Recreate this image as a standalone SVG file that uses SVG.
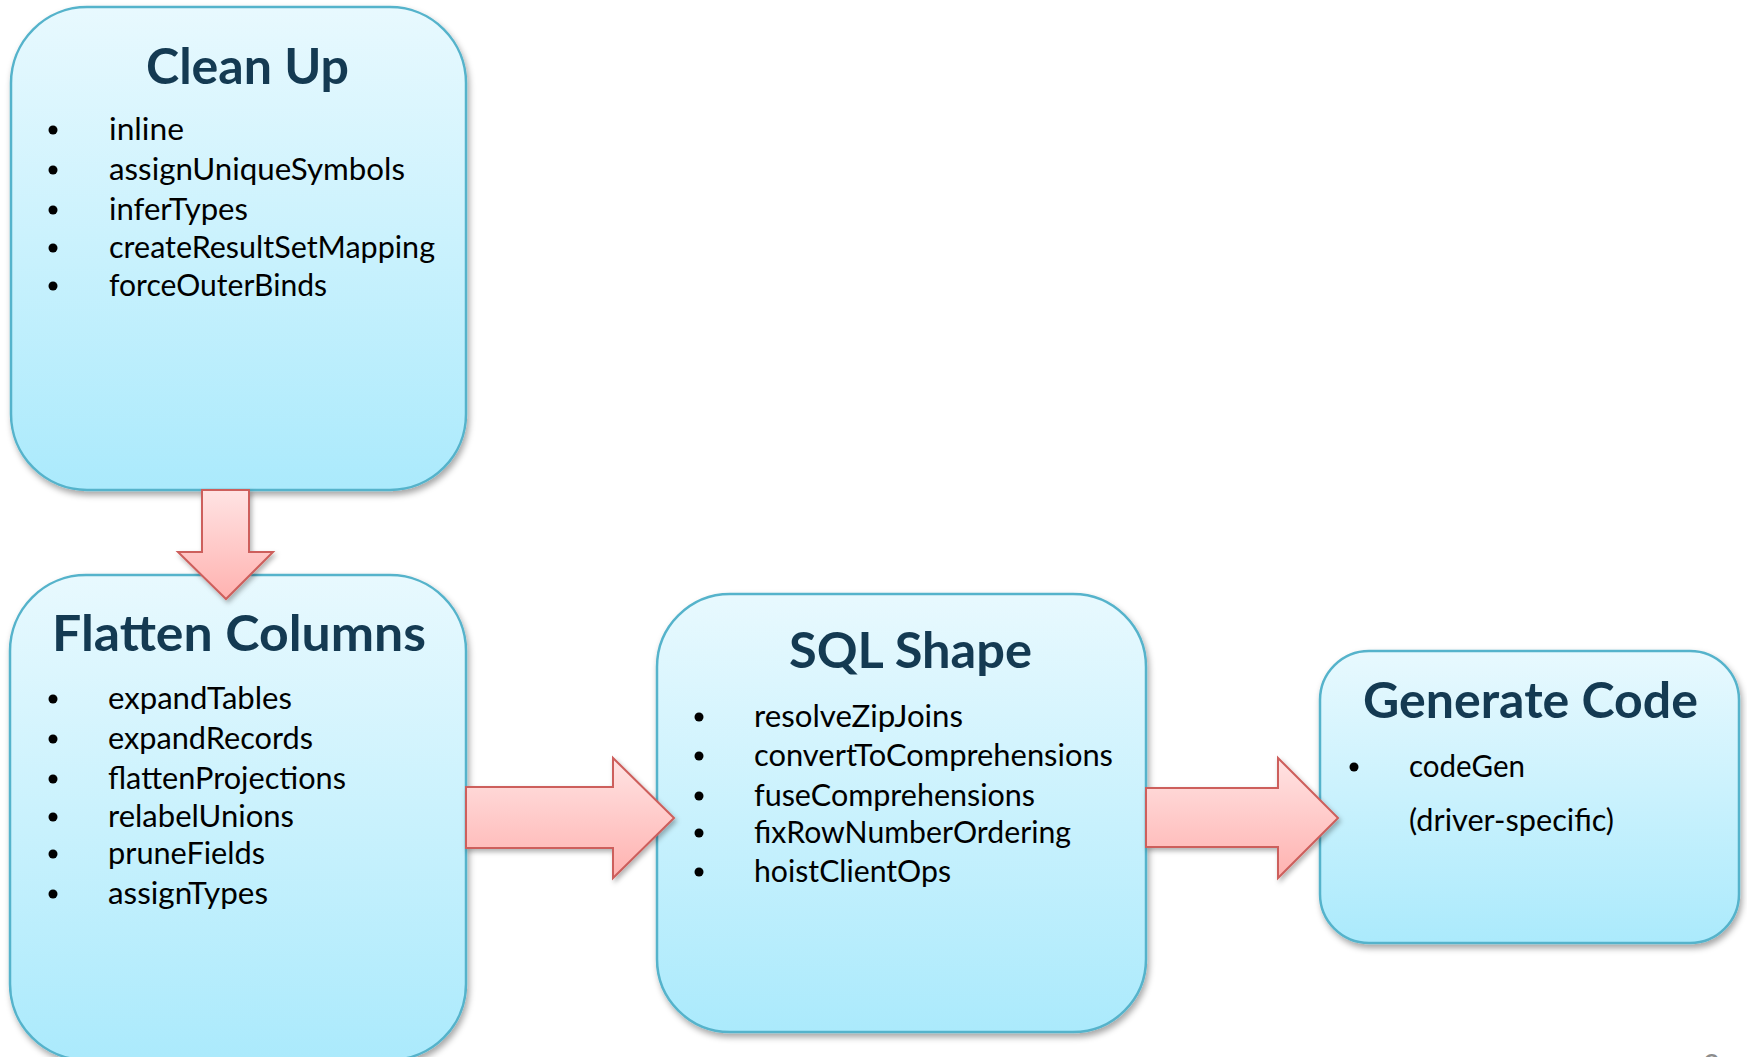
<svg xmlns="http://www.w3.org/2000/svg" width="1747" height="1057" viewBox="0 0 1747 1057">
  <defs>
    <linearGradient id="boxFill" x1="0" y1="0" x2="0" y2="1">
      <stop offset="0" stop-color="#E8F9FE"/>
      <stop offset="1" stop-color="#ABEAFC"/>
    </linearGradient>
    <linearGradient id="arrowFillV" x1="0" y1="0" x2="0" y2="1">
      <stop offset="0" stop-color="#FFE3E3"/>
      <stop offset="1" stop-color="#FFB2B0"/>
    </linearGradient>
    <filter id="shadow" x="-10%" y="-10%" width="125%" height="125%">
      <feDropShadow dx="2" dy="4" stdDeviation="3" flood-color="#000" flood-opacity="0.35"/>
    </filter>
    <filter id="arrowShadow" x="-10%" y="-10%" width="125%" height="125%">
      <feDropShadow dx="2" dy="3" stdDeviation="2.5" flood-color="#000" flood-opacity="0.3"/>
    </filter>
  </defs>
  <style>
    .box { fill: url(#boxFill); stroke: #55B3CB; stroke-width: 2.5; filter: url(#shadow); }
    .title { font-family: Lato, "Liberation Sans", sans-serif; font-weight: 700; font-size: 50px; fill: #143A52; }
    .item { font-family: Lato, "Liberation Sans", sans-serif; font-size: 31px; fill: #000; }
    .bullet { fill: #000; }
    .arrow { fill: url(#arrowFillV); stroke: #CD5E5B; stroke-width: 2; stroke-linejoin: miter; filter: url(#arrowShadow); }
    .pagenum { font-family: Lato, "Liberation Sans", sans-serif; font-size: 30px; fill: #8C8C8C; }
  </style>

  <rect width="1747" height="1057" fill="#FFFFFF"/>

  <!-- Clean Up -->
  <g id="node-clean-up">
    <rect class="box" x="11" y="7" width="455" height="483" rx="76" ry="76"/>
    <text class="title" x="146" y="84" textLength="203" lengthAdjust="spacingAndGlyphs">Clean Up</text>
    <g class="bullet">
      <circle cx="53" cy="130" r="4.5"/>
      <circle cx="53" cy="170" r="4.5"/>
      <circle cx="53" cy="210" r="4.5"/>
      <circle cx="53" cy="248" r="4.5"/>
      <circle cx="53" cy="286" r="4.5"/>
    </g>
    <text class="item" x="109" y="140" textLength="75" lengthAdjust="spacingAndGlyphs">inline</text>
    <text class="item" x="109" y="180" textLength="296" lengthAdjust="spacingAndGlyphs">assignUniqueSymbols</text>
    <text class="item" x="109" y="220" textLength="139" lengthAdjust="spacingAndGlyphs">inferTypes</text>
    <text class="item" x="109" y="258" textLength="326" lengthAdjust="spacingAndGlyphs">createResultSetMapping</text>
    <text class="item" x="109" y="296" textLength="218" lengthAdjust="spacingAndGlyphs">forceOuterBinds</text>
  </g>

  <!-- Flatten Columns -->
  <g id="node-flatten-columns">
    <rect class="box" x="10" y="575" width="456" height="485" rx="76" ry="76"/>
    <text class="title" x="52" y="651" textLength="374" lengthAdjust="spacingAndGlyphs">Flatten Columns</text>
    <g class="bullet">
      <circle cx="53" cy="699" r="4.5"/>
      <circle cx="53" cy="739" r="4.5"/>
      <circle cx="53" cy="779" r="4.5"/>
      <circle cx="53" cy="817" r="4.5"/>
      <circle cx="53" cy="854" r="4.5"/>
      <circle cx="53" cy="894" r="4.5"/>
    </g>
    <text class="item" x="108" y="709" textLength="184" lengthAdjust="spacingAndGlyphs">expandTables</text>
    <text class="item" x="108" y="749" textLength="205" lengthAdjust="spacingAndGlyphs">expandRecords</text>
    <text class="item" x="108" y="789" textLength="238" lengthAdjust="spacingAndGlyphs">flattenProjections</text>
    <text class="item" x="108" y="827" textLength="186" lengthAdjust="spacingAndGlyphs">relabelUnions</text>
    <text class="item" x="108" y="864" textLength="157" lengthAdjust="spacingAndGlyphs">pruneFields</text>
    <text class="item" x="108" y="904" textLength="160" lengthAdjust="spacingAndGlyphs">assignTypes</text>
  </g>

  <!-- SQL Shape -->
  <g id="node-sql-shape">
    <rect class="box" x="657" y="594" width="489" height="438" rx="73" ry="73"/>
    <text class="title" x="789" y="668" textLength="243" lengthAdjust="spacingAndGlyphs">SQL Shape</text>
    <g class="bullet">
      <circle cx="699" cy="717" r="4.5"/>
      <circle cx="699" cy="756" r="4.5"/>
      <circle cx="699" cy="796" r="4.5"/>
      <circle cx="699" cy="833" r="4.5"/>
      <circle cx="699" cy="872" r="4.5"/>
    </g>
    <text class="item" x="754" y="727" textLength="209" lengthAdjust="spacingAndGlyphs">resolveZipJoins</text>
    <text class="item" x="754" y="766" textLength="359" lengthAdjust="spacingAndGlyphs">convertToComprehensions</text>
    <text class="item" x="754" y="806" textLength="281" lengthAdjust="spacingAndGlyphs">fuseComprehensions</text>
    <text class="item" x="754" y="843" textLength="317" lengthAdjust="spacingAndGlyphs">fixRowNumberOrdering</text>
    <text class="item" x="754" y="882" textLength="197" lengthAdjust="spacingAndGlyphs">hoistClientOps</text>
  </g>

  <!-- Generate Code -->
  <g id="node-generate-code">
    <rect class="box" x="1320" y="651" width="419" height="292" rx="49" ry="49"/>
    <text class="title" x="1363" y="718" textLength="335" lengthAdjust="spacingAndGlyphs">Generate Code</text>
    <circle class="bullet" cx="1354" cy="767" r="4.5"/>
    <text class="item" x="1409" y="777" textLength="116" lengthAdjust="spacingAndGlyphs">codeGen</text>
    <text class="item" x="1409" y="831" textLength="205" lengthAdjust="spacingAndGlyphs">(driver-specific)</text>
  </g>

  <!-- Block arrows between passes -->
  <g id="connectors">
    <path class="arrow" d="M202,490 L249,490 L249,552 L273,552 L226,599 L178,552 L202,552 Z"/>
    <path class="arrow" d="M466,787 L613,787 L613,758 L674,818 L613,878 L613,848 L466,848 Z"/>
    <path class="arrow" d="M1146,788 L1278,788 L1278,758 L1338,818 L1278,878 L1278,847 L1146,847 Z"/>
  </g>

  <!-- Slide number -->
  <text class="pagenum" x="1703" y="1076">9</text>
</svg>
